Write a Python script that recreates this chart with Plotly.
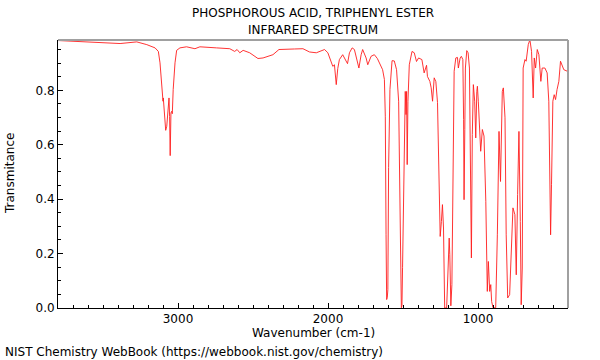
import plotly.graph_objects as go

# Wavenumber (cm-1) and transmittance
wavenumber = [3800, 3652, 3519, 3386, 3275, 3208, 3153, 3131, 3120, 3109, 3105, 3100, 3098, 3091, 3082,
              3075, 3065, 3060, 3056, 3052, 3047, 3042, 3038, 3032, 3020, 3009, 2987, 2943, 2887, 2854,
              2743, 2655, 2622, 2606, 2588, 2566, 2522, 2467, 2433, 2400, 2367, 2327, 2278, 2223, 2167,
              2123, 2078, 2023, 2001, 1979, 1968, 1957, 1945, 1935, 1924, 1902, 1879, 1870, 1857, 1839,
              1824, 1802, 1794, 1779, 1769, 1746, 1735, 1713, 1691, 1671, 1658, 1636, 1624, 1618, 1613,
              1609, 1605, 1601, 1596, 1587, 1573, 1558, 1543, 1529, 1520, 1511, 1507, 1503, 1493, 1485,
              1480, 1476, 1472, 1467, 1458, 1440, 1425, 1410, 1396, 1374, 1359, 1343, 1337, 1321, 1312,
              1303, 1292, 1281, 1270, 1259, 1252, 1244, 1237, 1230, 1226, 1222, 1209, 1204, 1197, 1192,
              1188, 1181, 1174, 1168, 1159, 1148, 1137, 1131, 1119, 1111, 1101, 1096, 1093, 1088, 1084,
              1075, 1066, 1057, 1048, 1044, 1038, 1031, 1022, 1015, 1008, 1004, 998, 993, 982, 971,
              960, 948, 938, 931, 922, 915, 909, 900, 882, 871, 860, 850, 838, 831, 820,
              812, 802, 789, 776, 767, 754, 745, 736, 727, 718, 712, 705, 699, 687, 679,
              665, 654, 643, 632, 625, 616, 605, 594, 581, 572, 554, 539, 528, 521, 516,
              510, 501, 492, 483, 473, 461, 450, 439, 428, 400]
transmittance = [0.983, 0.979, 0.976, 0.972, 0.978, 0.968, 0.956, 0.943, 0.901, 0.827, 0.772, 0.760, 0.772, 0.704, 0.653,
                 0.668, 0.766, 0.772, 0.704, 0.560, 0.717, 0.723, 0.714, 0.803, 0.901, 0.947, 0.956, 0.960, 0.953, 0.960,
                 0.956, 0.953, 0.943, 0.950, 0.938, 0.947, 0.938, 0.917, 0.919, 0.925, 0.931, 0.950, 0.950, 0.952, 0.953,
                 0.941, 0.938, 0.950, 0.938, 0.907, 0.888, 0.894, 0.821, 0.880, 0.913, 0.931, 0.909, 0.898, 0.938, 0.956,
                 0.950, 0.894, 0.882, 0.931, 0.950, 0.919, 0.894, 0.925, 0.931, 0.917, 0.901, 0.876, 0.840, 0.705, 0.269,
                 0.031, 0.038, 0.067, 0.516, 0.803, 0.909, 0.908, 0.876, 0.760, 0.392, 0.001, 0.008, 0.148, 0.516, 0.796,
                 0.711, 0.796, 0.527, 0.760, 0.894, 0.943, 0.938, 0.906, 0.919, 0.913, 0.864, 0.892, 0.851, 0.833, 0.809,
                 0.760, 0.846, 0.832, 0.755, 0.435, 0.263, 0.318, 0.380, 0.294, 0.031, 0.000, 0.000, 0.061, 0.171, 0.257,
                 0.196, 0.008, 0.086, 0.516, 0.870, 0.919, 0.921, 0.882, 0.919, 0.925, 0.913, 0.692, 0.398, 0.656, 0.882,
                 0.946, 0.938, 0.882, 0.515, 0.184, 0.637, 0.821, 0.760, 0.625, 0.796, 0.815, 0.760, 0.711, 0.576, 0.656,
                 0.632, 0.392, 0.061, 0.171, 0.061, 0.086, 0.024, 0.001, 0.001, 0.269, 0.649, 0.465, 0.796, 0.809, 0.699,
                 0.269, 0.037, 0.049, 0.269, 0.368, 0.343, 0.122, 0.417, 0.649, 0.318, 0.012, 0.147, 0.882, 0.913, 0.907,
                 0.968, 0.986, 0.943, 0.772, 0.919, 0.882, 0.950, 0.931, 0.833, 0.882, 0.882, 0.864, 0.760, 0.515, 0.269,
                 0.453, 0.760, 0.784, 0.766, 0.803, 0.833, 0.907, 0.894, 0.876, 0.869]

x_ticks = [1000, 2000, 3000]
y_ticks = [0.0, 0.2, 0.4, 0.6, 0.8]
y_tick_labels = ["0.0", "0.2", "0.4", "0.6", "0.8"]

title_lines = ["PHOSPHOROUS ACID, TRIPHENYL ESTER", "INFRARED SPECTRUM"]
x_title = "Wavenumber (cm-1)"
y_title = "Transmitance"
footer = "NIST Chemistry WebBook (https://webbook.nist.gov/chemistry)"

FONT = "DejaVu Sans, Liberation Sans, sans-serif"

fig = go.Figure()
fig.add_trace(go.Scatter(x=wavenumber, y=transmittance, mode="lines",
                         line=dict(color="rgba(255,30,30,0.9)", width=1),
                         hoverinfo="skip", showlegend=False))

fig.update_layout(
    width=600, height=360,
    margin=dict(l=58, r=32, t=40, b=52),
    paper_bgcolor="white", plot_bgcolor="white",
    font=dict(family=FONT, size=12, color="black"),
    showlegend=False,
    xaxis=dict(range=[3800, 400], tickvals=x_ticks, ticks="inside", ticklen=5, tickcolor="black",
               showgrid=False, zeroline=False, showline=True, linecolor="black", linewidth=1,
               tickfont=dict(size=12, family=FONT),
               minor=dict(dtick=100, tick0=0, ticks="inside", ticklen=3, tickcolor="black", showgrid=False)),
    yaxis=dict(range=[0, 0.985], tickvals=y_ticks, ticktext=y_tick_labels, ticks="inside", ticklen=5,
               tickcolor="black", showgrid=False, zeroline=False, showline=True, linecolor="black", linewidth=1,
               tickfont=dict(size=12, family=FONT),
               minor=dict(dtick=0.05, tick0=0, ticks="inside", ticklen=3, tickcolor="black", showgrid=False)),
)

# Gray top and right frame lines
fig.add_shape(type="line", xref="paper", yref="paper", x0=0, x1=1, y0=1, y1=1,
              line=dict(color="#a0a0a0", width=2))
fig.add_shape(type="line", xref="paper", yref="paper", x0=1, x1=1, y0=0, y1=1,
              line=dict(color="#a0a0a0", width=2))

fig.add_annotation(text=title_lines[0], xref="paper", yref="paper", x=0.5, y=1, yshift=27,
                   showarrow=False, font=dict(size=12, family=FONT), yanchor="middle")
fig.add_annotation(text=title_lines[1], xref="paper", yref="paper", x=0.5, y=1, yshift=10,
                   showarrow=False, font=dict(size=12, family=FONT), yanchor="middle")
fig.add_annotation(text=x_title, xref="paper", yref="paper", x=0.5, y=0, yshift=-25,
                   showarrow=False, font=dict(size=12, family=FONT), yanchor="middle")
fig.add_annotation(text=y_title, xref="paper", yref="paper", x=0, xshift=-48, y=0.5,
                   showarrow=False, textangle=-90, font=dict(size=12, family=FONT), xanchor="center")
fig.add_annotation(text=footer, xref="paper", yref="paper", x=0, xshift=-55, y=0, yshift=-44,
                   showarrow=False, font=dict(size=12, family=FONT), xanchor="left", yanchor="middle")

fig.write_html("out.html", config={"displayModeBar": False, "staticPlot": True},
               post_script="document.body.style.margin='0';document.body.style.overflow='hidden';")
